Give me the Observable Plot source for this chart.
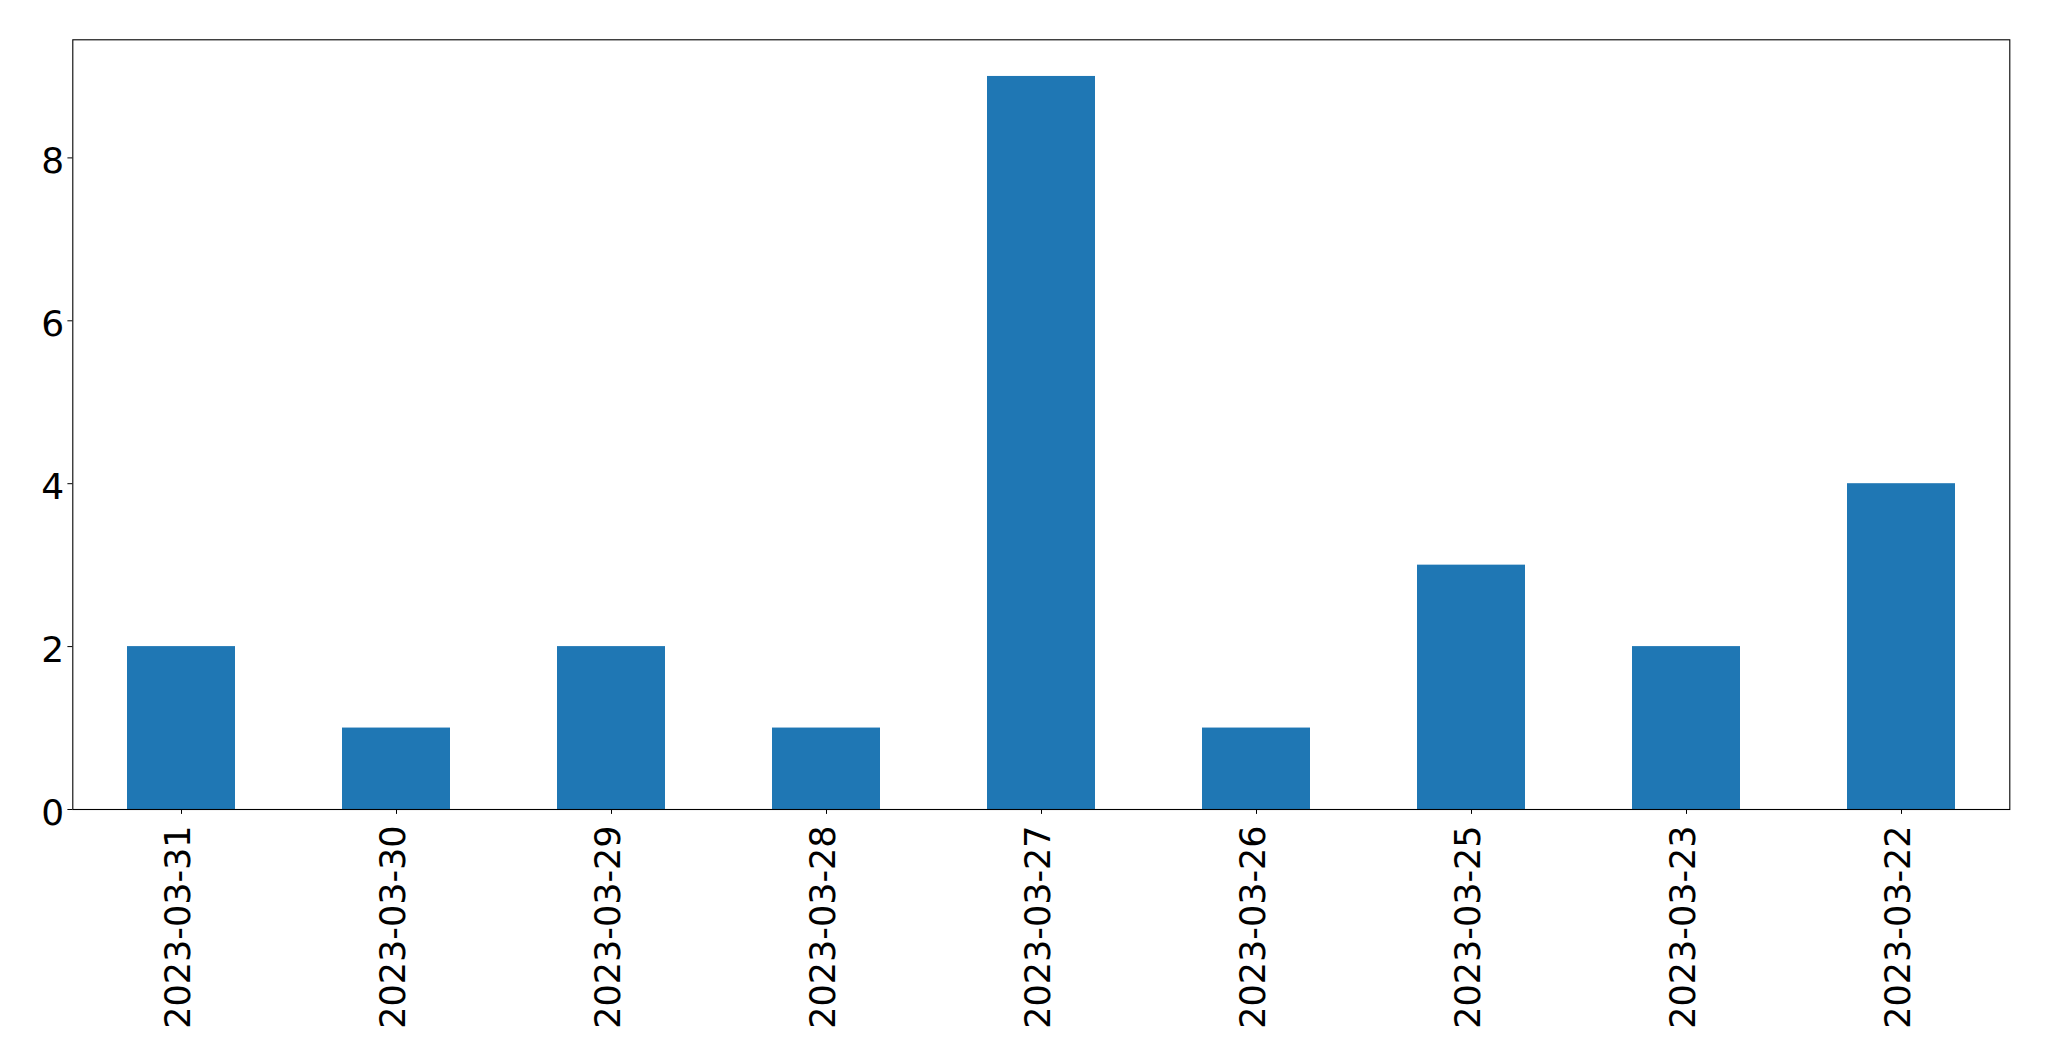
<!DOCTYPE html>
<html>
<head>
<meta charset="utf-8">
<script src="https://cdn.jsdelivr.net/npm/d3@7"></script>
<script src="https://cdn.jsdelivr.net/npm/@observablehq/plot@0.6"></script>
<style>
  html, body { margin: 0; padding: 0; background: #fff; overflow: hidden; }
  #chart svg { display: block; }
</style>
</head>
<body>
<div id="chart"></div>
<script>
const dates = ["2023-03-31","2023-03-30","2023-03-29","2023-03-28","2023-03-27","2023-03-26","2023-03-25","2023-03-23","2023-03-22"];
const counts = [2, 1, 2, 1, 9, 1, 3, 2, 4];
const yTicks = [0, 2, 4, 6, 8];

const data = dates.map((d, i) => ({date: d, count: counts[i]}));

const chart = Plot.plot({
  width: 2049,
  height: 1061,
  marginLeft: 72.3,
  marginRight: 39.7,
  marginTop: 39.3,
  marginBottom: 252,
  style: {fontFamily: "DejaVu Sans", color: "#000", background: "#fff"},
  x: {type: "band", domain: dates, paddingInner: 0.5, paddingOuter: 0.25},
  y: {domain: [0, 9.45]},
  marks: [
    Plot.barY(data, {x: "date", y: "count", fill: "#1f77b4"}),
    Plot.frame({stroke: "#000", strokeWidth: 1.1}),
    // tick marks
    Plot.axisX({tickSize: 4.9, tickFormat: () => "", stroke: "#000", label: null}),
    Plot.axisY({ticks: yTicks, tickSize: 4.9, tickFormat: () => "", stroke: "#000", label: null}),
    // tick labels
    Plot.axisX({
      tickRotate: -90, fontSize: 35, tickSize: 0, tickPadding: 15.9, dx: -2.5,
      fill: "#000", label: null, textAnchor: "end"
    }),
    Plot.axisY({
      ticks: yTicks, fontSize: 36, tickSize: 0, tickPadding: 8.6, dy: 3.5,
      fill: "#000", label: null
    })
  ]
});
document.getElementById("chart").appendChild(chart);
</script>
</body>
</html>
